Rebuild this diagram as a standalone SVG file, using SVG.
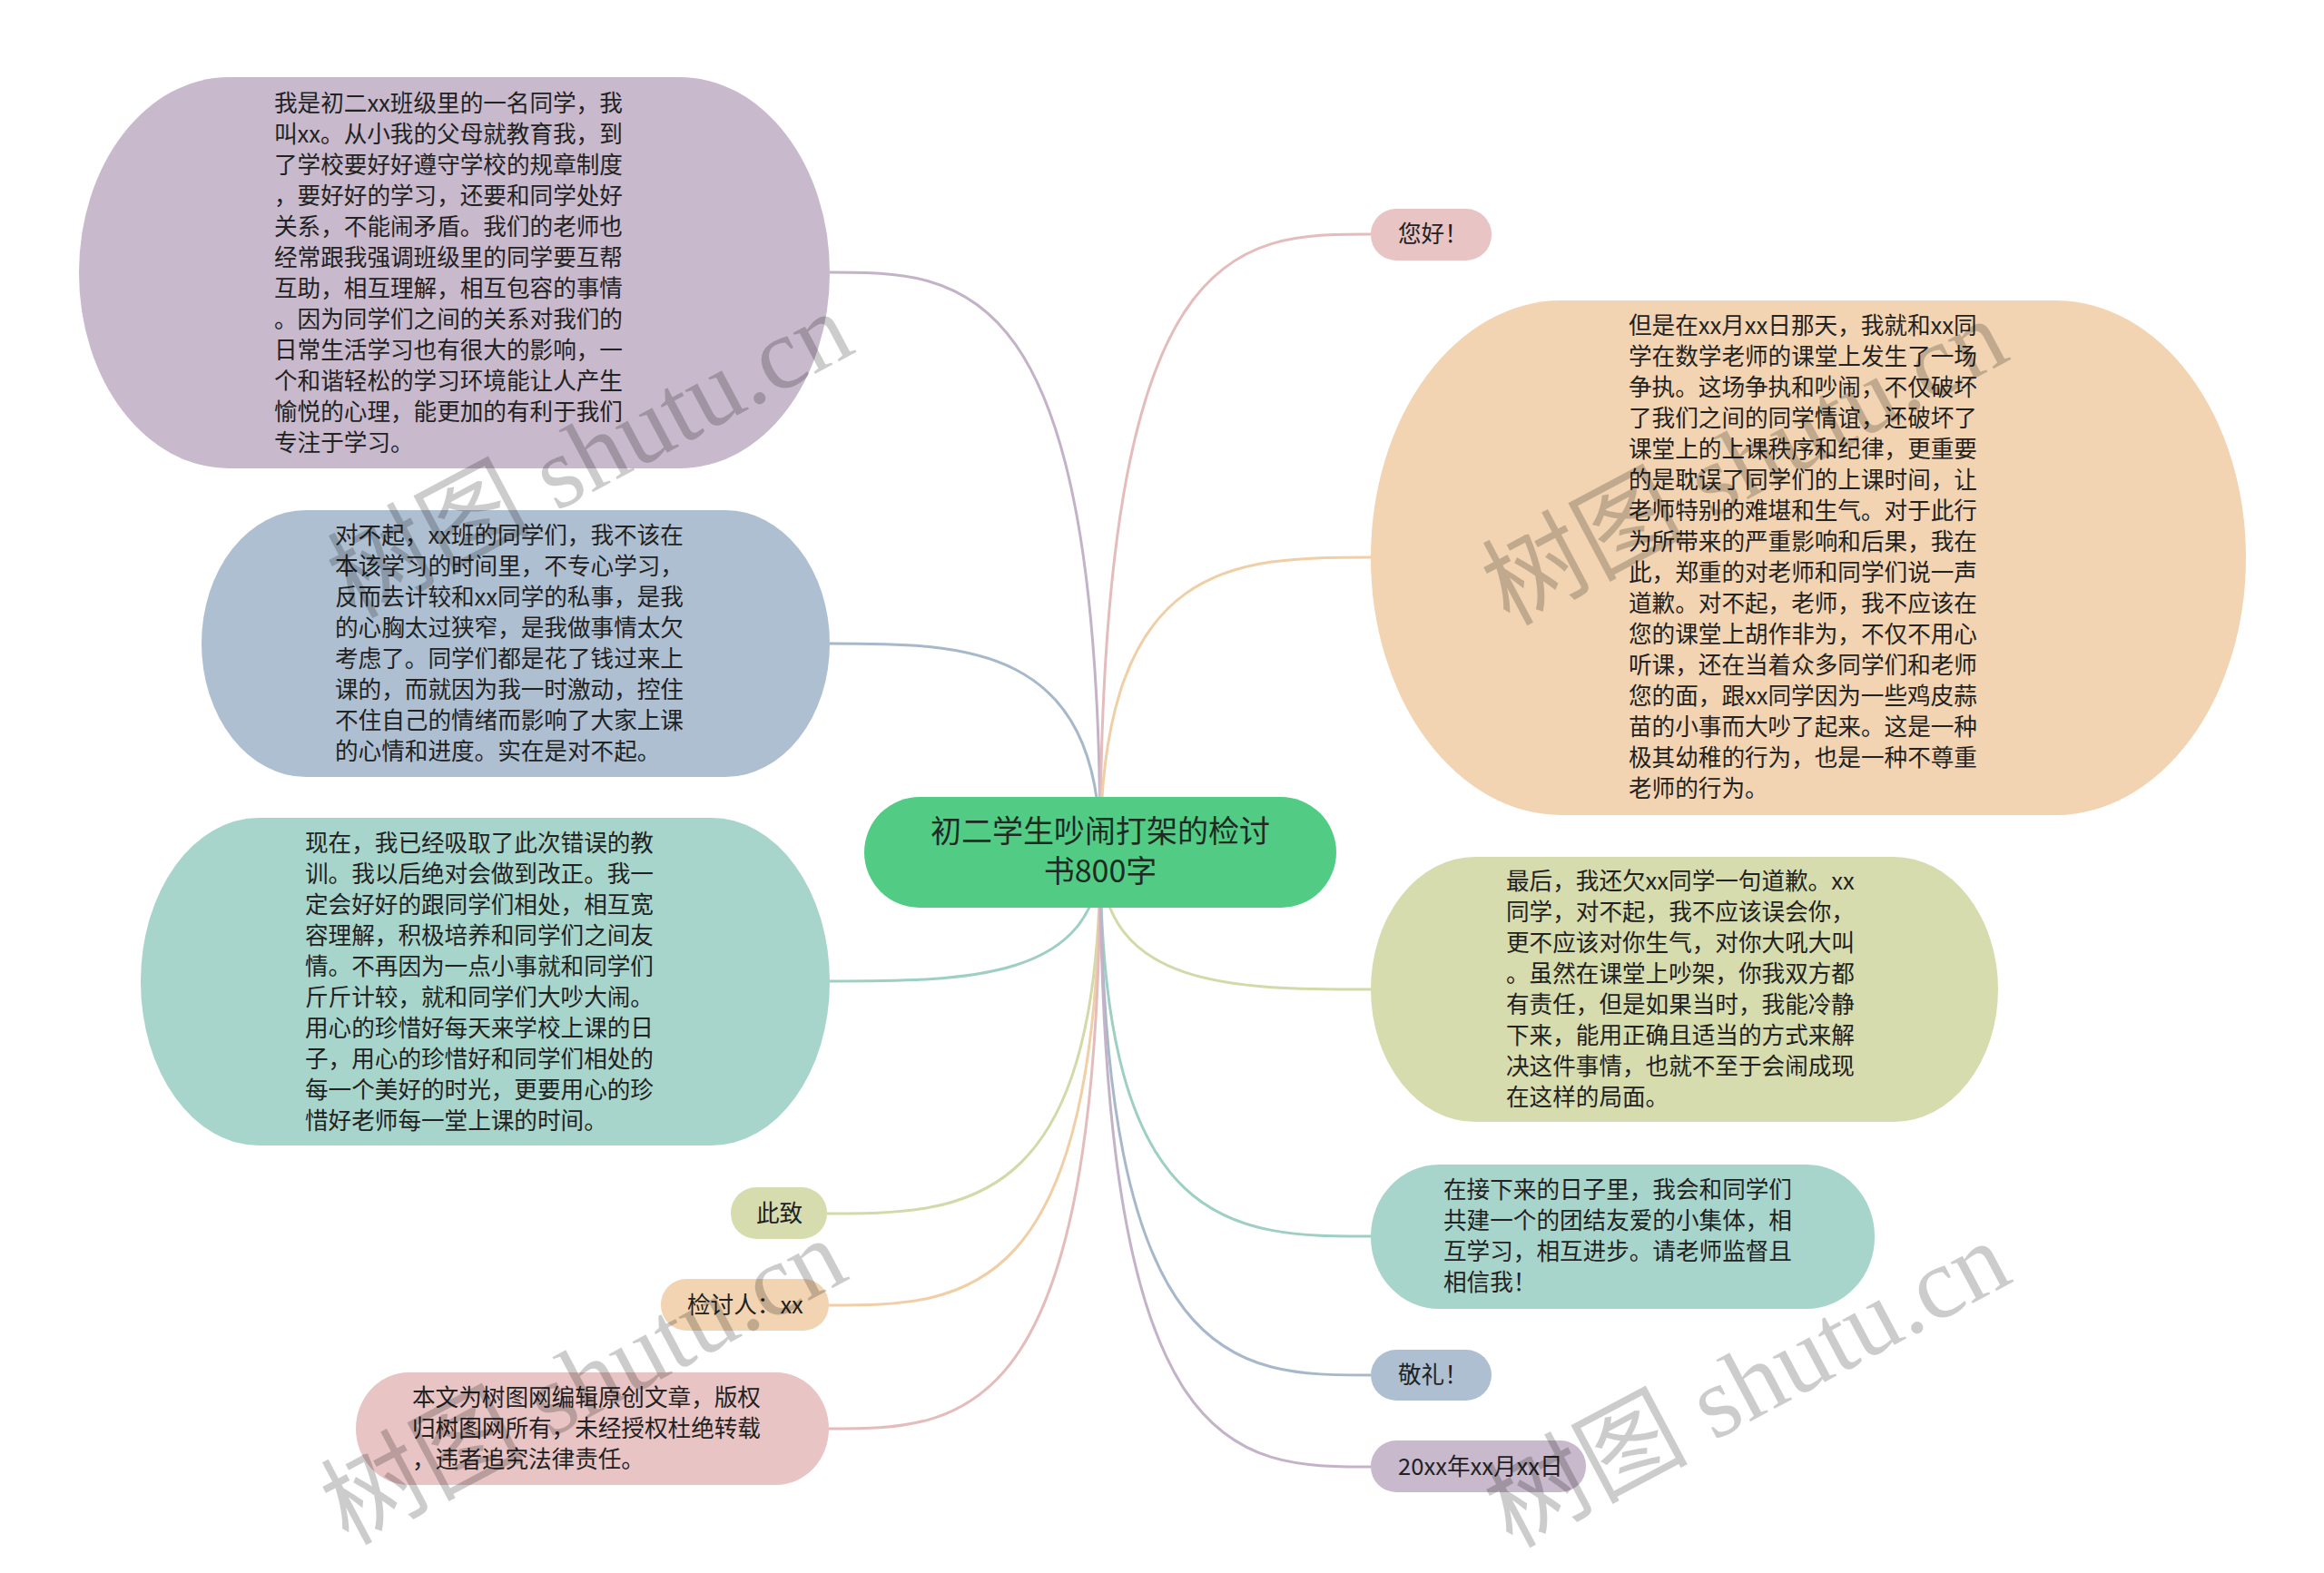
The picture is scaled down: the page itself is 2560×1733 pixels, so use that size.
<svg xmlns="http://www.w3.org/2000/svg" width="2560" height="1733" viewBox="0 0 2560 1733">
<style>
text{font-family:"Noto Sans CJK SC","Noto Sans",sans-serif;fill:#222222;}
.t{font-size:25.6px;}
.title{font-size:34px;text-anchor:middle;fill:#1f2a22;}
.c path{fill:none;stroke-width:3;}
.wm{font-family:"Liberation Serif","Noto Sans CJK SC",serif;font-size:112px;fill:#000;fill-opacity:0.2;}
</style>
<rect width="2560" height="1733" fill="#ffffff"/>
<g class="c" id="connectors">
<path d="M1212 939 C1212 300 1063 300 914 300" stroke="#c4b3c8"/>
<path d="M1212 939 C1212 709 1063 709 914 709" stroke="#a7b8cb"/>
<path d="M1212 939 C1212 1081 1063 1081 914 1081" stroke="#9dcfc3"/>
<path d="M1212 939 C1212 1337 1061 1337 911 1337" stroke="#d3d9a8"/>
<path d="M1212 939 C1212 1438 1063 1438 913 1438" stroke="#f0cfa6"/>
<path d="M1212 939 C1212 1574 1063 1574 913 1574" stroke="#e4bcbc"/>
<path d="M1212 939 C1212 258 1361 258 1510 258" stroke="#e4bcbc"/>
<path d="M1212 939 C1212 614 1361 614 1510 614" stroke="#f0cfa6"/>
<path d="M1212 939 C1212 1090 1361 1090 1510 1090" stroke="#d3d9a8"/>
<path d="M1212 939 C1212 1362 1361 1362 1510 1362" stroke="#9dcfc3"/>
<path d="M1212 939 C1212 1515 1361 1515 1510 1515" stroke="#a7b8cb"/>
<path d="M1212 939 C1212 1616 1361 1616 1510 1616" stroke="#c4b3c8"/>
</g>
<g id="root">
<rect x="952" y="878" width="520" height="122" rx="61" fill="#52cc85"/>
<text class="title" x="1212" y="928">初二学生吵闹打架的检讨</text>
<text class="title" x="1212" y="972">书800字</text>
</g>
<g id="n1">
<rect x="87" y="85" width="827" height="431" rx="165" ry="215" fill="#c8b9cc"/>
<text class="t" x="302" y="123">我是初二xx班级里的一名同学，我</text>
<text class="t" x="302" y="157">叫xx。从小我的父母就教育我，到</text>
<text class="t" x="302" y="191">了学校要好好遵守学校的规章制度</text>
<text class="t" x="302" y="225">，要好好的学习，还要和同学处好</text>
<text class="t" x="302" y="259">关系，不能闹矛盾。我们的老师也</text>
<text class="t" x="302" y="293">经常跟我强调班级里的同学要互帮</text>
<text class="t" x="302" y="327">互助，相互理解，相互包容的事情</text>
<text class="t" x="302" y="361">。因为同学们之间的关系对我们的</text>
<text class="t" x="302" y="395">日常生活学习也有很大的影响，一</text>
<text class="t" x="302" y="429">个和谐轻松的学习环境能让人产生</text>
<text class="t" x="302" y="463">愉悦的心理，能更加的有利于我们</text>
<text class="t" x="302" y="497">专注于学习。</text>
</g>
<g id="n2">
<rect x="222" y="562" width="692" height="294" rx="115" ry="147" fill="#adbfd1"/>
<text class="t" x="369" y="599">对不起，xx班的同学们，我不该在</text>
<text class="t" x="369" y="633">本该学习的时间里，不专心学习，</text>
<text class="t" x="369" y="667">反而去计较和xx同学的私事，是我</text>
<text class="t" x="369" y="701">的心胸太过狭窄，是我做事情太欠</text>
<text class="t" x="369" y="735">考虑了。同学们都是花了钱过来上</text>
<text class="t" x="369" y="769">课的，而就因为我一时激动，控住</text>
<text class="t" x="369" y="803">不住自己的情绪而影响了大家上课</text>
<text class="t" x="369" y="837">的心情和进度。实在是对不起。</text>
</g>
<g id="n3">
<rect x="155" y="901" width="759" height="361" rx="130" ry="180" fill="#a8d5cb"/>
<text class="t" x="336" y="938">现在，我已经吸取了此次错误的教</text>
<text class="t" x="336" y="972">训。我以后绝对会做到改正。我一</text>
<text class="t" x="336" y="1006">定会好好的跟同学们相处，相互宽</text>
<text class="t" x="336" y="1040">容理解，积极培养和同学们之间友</text>
<text class="t" x="336" y="1074">情。不再因为一点小事就和同学们</text>
<text class="t" x="336" y="1108">斤斤计较，就和同学们大吵大闹。</text>
<text class="t" x="336" y="1142">用心的珍惜好每天来学校上课的日</text>
<text class="t" x="336" y="1176">子，用心的珍惜好和同学们相处的</text>
<text class="t" x="336" y="1210">每一个美好的时光，更要用心的珍</text>
<text class="t" x="336" y="1244">惜好老师每一堂上课的时间。</text>
</g>
<g id="n4">
<rect x="805" y="1308" width="106" height="57" rx="28" fill="#d6dcae"/>
<text class="t" x="833" y="1346">此致</text>
</g>
<g id="n5">
<rect x="728" y="1409" width="185" height="57" rx="28" fill="#f2d4b2"/>
<text class="t" x="757" y="1447">检讨人：xx</text>
</g>
<g id="n6">
<rect x="392" y="1512" width="521" height="124" rx="58" ry="62" fill="#e8c4c4"/>
<text class="t" x="454" y="1549">本文为树图网编辑原创文章，版权</text>
<text class="t" x="454" y="1583">归树图网所有，未经授权杜绝转载</text>
<text class="t" x="454" y="1617">，违者追究法律责任。</text>
</g>
<g id="n7">
<rect x="1510" y="230" width="133" height="57" rx="28" fill="#e8c4c4"/>
<text class="t" x="1540" y="267">您好！</text>
</g>
<g id="n8">
<rect x="1510" y="331" width="964" height="567" rx="210" ry="283" fill="#f2d4b2"/>
<text class="t" x="1794" y="368">但是在xx月xx日那天，我就和xx同</text>
<text class="t" x="1794" y="402">学在数学老师的课堂上发生了一场</text>
<text class="t" x="1794" y="436">争执。这场争执和吵闹，不仅破坏</text>
<text class="t" x="1794" y="470">了我们之间的同学情谊，还破坏了</text>
<text class="t" x="1794" y="504">课堂上的上课秩序和纪律，更重要</text>
<text class="t" x="1794" y="538">的是耽误了同学们的上课时间，让</text>
<text class="t" x="1794" y="572">老师特别的难堪和生气。对于此行</text>
<text class="t" x="1794" y="606">为所带来的严重影响和后果，我在</text>
<text class="t" x="1794" y="640">此，郑重的对老师和同学们说一声</text>
<text class="t" x="1794" y="674">道歉。对不起，老师，我不应该在</text>
<text class="t" x="1794" y="708">您的课堂上胡作非为，不仅不用心</text>
<text class="t" x="1794" y="742">听课，还在当着众多同学们和老师</text>
<text class="t" x="1794" y="776">您的面，跟xx同学因为一些鸡皮蒜</text>
<text class="t" x="1794" y="810">苗的小事而大吵了起来。这是一种</text>
<text class="t" x="1794" y="844">极其幼稚的行为，也是一种不尊重</text>
<text class="t" x="1794" y="878">老师的行为。</text>
</g>
<g id="n9">
<rect x="1510" y="944" width="691" height="292" rx="115" ry="146" fill="#d6dcae"/>
<text class="t" x="1659" y="980">最后，我还欠xx同学一句道歉。xx</text>
<text class="t" x="1659" y="1014">同学，对不起，我不应该误会你，</text>
<text class="t" x="1659" y="1048">更不应该对你生气，对你大吼大叫</text>
<text class="t" x="1659" y="1082">。虽然在课堂上吵架，你我双方都</text>
<text class="t" x="1659" y="1116">有责任，但是如果当时，我能冷静</text>
<text class="t" x="1659" y="1150">下来，能用正确且适当的方式来解</text>
<text class="t" x="1659" y="1184">决这件事情，也就不至于会闹成现</text>
<text class="t" x="1659" y="1218">在这样的局面。</text>
</g>
<g id="n10">
<rect x="1510" y="1283" width="555" height="159" rx="75" ry="79" fill="#a8d5cb"/>
<text class="t" x="1590" y="1320">在接下来的日子里，我会和同学们</text>
<text class="t" x="1590" y="1354">共建一个的团结友爱的小集体，相</text>
<text class="t" x="1590" y="1388">互学习，相互进步。请老师监督且</text>
<text class="t" x="1590" y="1422">相信我！</text>
</g>
<g id="n11">
<rect x="1510" y="1487" width="133" height="56" rx="28" fill="#adbfd1"/>
<text class="t" x="1540" y="1524">敬礼！</text>
</g>
<g id="n12">
<rect x="1510" y="1587" width="237" height="57" rx="28" fill="#c8b9cc"/>
<text class="t" x="1540" y="1625">20xx年xx月xx日</text>
</g>
<g id="watermarks">
<text class="wm" transform="translate(390 682) rotate(-28)">树图 shutu.cn</text>
<text class="wm" transform="translate(1662 690) rotate(-28)">树图 shutu.cn</text>
<text class="wm" transform="translate(383 1703) rotate(-28)">树图 shutu.cn</text>
<text class="wm" transform="translate(1665 1706) rotate(-28)">树图 shutu.cn</text>
</g>
</svg>
